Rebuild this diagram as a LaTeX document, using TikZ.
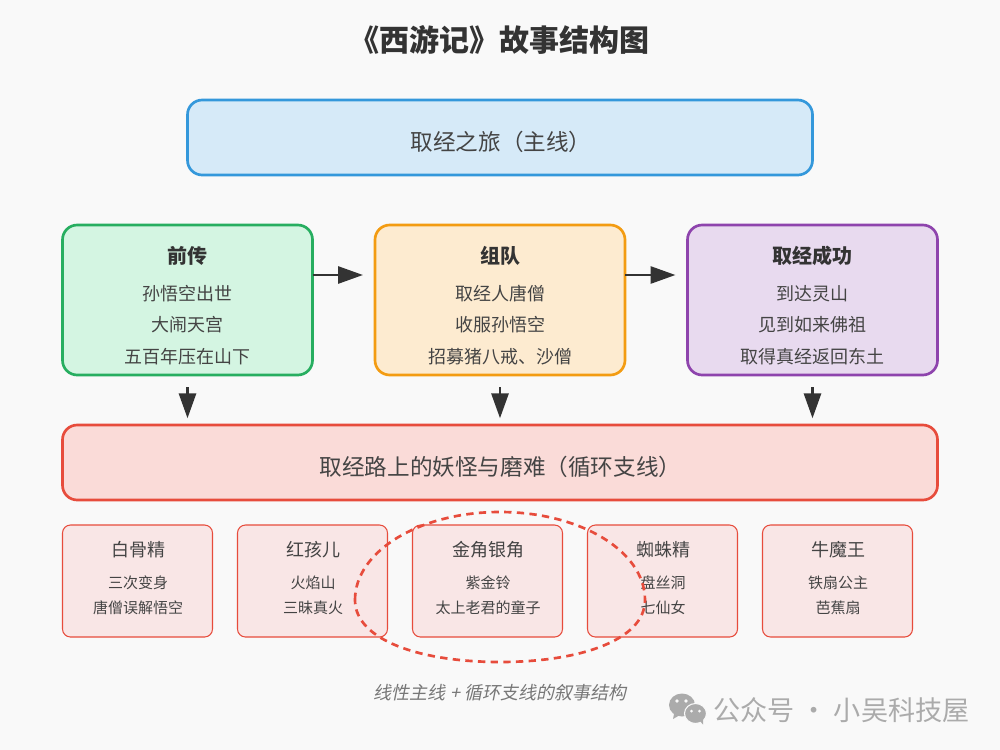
\documentclass[tikz,border=0pt]{standalone}
\usepackage{fontspec}
\setmainfont{Noto Sans CJK SC}
\newfontfamily\slantcjk[FakeSlant=0.2]{Noto Sans CJK SC}
\usetikzlibrary{arrows.meta}
\definecolor{bg}{HTML}{F9F9F9}
\definecolor{ink}{HTML}{333333}
\definecolor{soft}{HTML}{444444}
\definecolor{capt}{HTML}{777777}
\definecolor{wm}{HTML}{ABABAB}
\definecolor{bblue}{HTML}{3498DB}\definecolor{fblue}{HTML}{D6EAF8}
\definecolor{bgreen}{HTML}{27AE60}\definecolor{fgreen}{HTML}{D4F5E2}
\definecolor{borange}{HTML}{F39C12}\definecolor{forange}{HTML}{FDEBD0}
\definecolor{bpurple}{HTML}{8E44AD}\definecolor{fpurple}{HTML}{E8DAEF}
\definecolor{bred}{HTML}{E74C3C}\definecolor{fred}{HTML}{FADBD8}\definecolor{fpale}{HTML}{F9E6E6}
\newcommand{\px}[1]{\fontsize{\dimexpr#1pt*3/4\relax}{\dimexpr#1pt\relax}\selectfont}
\tikzset{
  bigbox/.style n args={2}{draw=#1,fill=#2,line width=2pt,rounded corners=11pt,inner sep=0pt,outer sep=0pt,anchor=north west},
  smallbox/.style={draw=bred,fill=fpale,line width=0.8pt,rounded corners=6pt,minimum width=112.5pt,minimum height=84pt,inner sep=0pt,outer sep=0pt,anchor=north west},
  txt/.style={text=soft,inner sep=0pt,anchor=center},
  flow/.style={draw=ink,line width=2.2pt,-{Triangle[length=18.75pt,width=12.75pt]}},
}
\begin{document}
\begin{tikzpicture}[x=0.75pt,y=-0.75pt]
\useasboundingbox (0,0) rectangle (1000,750);
\fill[bg] (0,0) rectangle (1000,750);
\node[txt,text=ink] (title) at (499.5,40) {\px{30}\bfseries 《西游记》故事结构图};
% main line
\node[bigbox={bblue}{fblue},minimum width=468.75pt,minimum height=56.25pt] (mainbox) at (187.5,100) {};
\node[txt] (maintext) at (501,142) {\px{22.6}取经之旅（主线）};
% three stages
\node[bigbox={bgreen}{fgreen},minimum width=187.5pt,minimum height=112.5pt] (pre) at (62.5,225) {};
\node[bigbox={borange}{forange},minimum width=187.5pt,minimum height=112.5pt] (team) at (375,225) {};
\node[bigbox={bpurple}{fpurple},minimum width=187.5pt,minimum height=112.5pt] (done) at (687.5,225) {};
\node[txt,text=ink] (pre0) at (187.5,256) {\px{20}\bfseries 前传};
\node[txt] (pre1) at (187.5,293.5) {\px{18}孙悟空出世};
\node[txt] (pre2) at (187.5,325) {\px{18}大闹天宫};
\node[txt] (pre3) at (187.5,356.5) {\px{18}五百年压在山下};
\node[txt,text=ink] (team0) at (500,256) {\px{20}\bfseries 组队};
\node[txt] (team1) at (500,293.5) {\px{18}取经人唐僧};
\node[txt] (team2) at (500,325) {\px{18}收服孙悟空};
\node[txt] (team3) at (500,356.5) {\px{18}招募猪八戒、沙僧};
\node[txt,text=ink] (done0) at (812.5,256) {\px{20}\bfseries 取经成功};
\node[txt] (done1) at (812.5,293.5) {\px{18}到达灵山};
\node[txt] (done2) at (812.5,325) {\px{18}见到如来佛祖};
\node[txt] (done3) at (812.5,356.5) {\px{18}取得真经返回东土};
% trials band
\node[bigbox={bred}{fred},minimum width=656.25pt,minimum height=56.25pt] (road) at (62.5,425) {};
\node[txt] (roadtext) at (500.5,467) {\px{22.6}取经路上的妖怪与磨难（循环支线）};
% connectors
\draw[flow,shorten >=9pt] ([yshift=18.75pt]pre.east) -- ([yshift=18.75pt]team.west);
\draw[flow,shorten >=9pt] ([yshift=18.75pt]team.east) -- ([yshift=18.75pt]done.west);
\draw[flow,shorten <=9pt,shorten >=5pt] (pre.south) -- (pre.south |- road.north);
\draw[flow,shorten <=9pt,shorten >=5pt] (team.south) -- (team.south |- road.north);
\draw[flow,shorten <=9pt,shorten >=5pt] (done.south) -- (done.south |- road.north);
% demons
\node[smallbox] (d1) at (62.5,525) {};
\node[smallbox] (d2) at (237.5,525) {};
\node[smallbox] (d3) at (412.5,525) {};
\node[smallbox] (d4) at (587.5,525) {};
\node[smallbox] (d5) at (762.5,525) {};
\node[txt] (d1a) at (138,550) {\px{18}白骨精};
\node[txt] (d1b) at (138,583) {\px{15}三次变身};
\node[txt] (d1c) at (138,608) {\px{15}唐僧误解悟空};
\node[txt] (d2a) at (313,550) {\px{18}红孩儿};
\node[txt] (d2b) at (313,583) {\px{15}火焰山};
\node[txt] (d2c) at (313,608) {\px{15}三昧真火};
\node[txt] (d3a) at (488,550) {\px{18}金角银角};
\node[txt] (d3b) at (488,583) {\px{15}紫金铃};
\node[txt] (d3c) at (488,608) {\px{15}太上老君的童子};
\node[txt] (d4a) at (663,550) {\px{18}蜘蛛精};
\node[txt] (d4b) at (663,583) {\px{15}盘丝洞};
\node[txt] (d4c) at (663,608) {\px{15}七仙女};
\node[txt] (d5a) at (838,550) {\px{18}牛魔王};
\node[txt] (d5b) at (838,583) {\px{15}铁扇公主};
\node[txt] (d5c) at (838,608) {\px{15}芭蕉扇};
% dashed loop
\draw[bred,line width=2pt,dash pattern=on 5.5pt off 4pt]
  (355,600) .. controls (355,551) and (420,512) .. (500,512)
  .. controls (580,512) and (645,551) .. (645,600)
  .. controls (645,640) and (580,662) .. (500,662)
  .. controls (420,662) and (355,640) .. (355,600) -- cycle;
% caption and watermark
\node[txt,text=capt] (cap) at (500,693) {\px{18}\slantcjk 线性主线 + 循环支线的叙事结构};
\node[txt,text=wm] (wmtext) at (841.5,710) {\px{27.1}公众号 · 小吴科技屋};
% chat icon
\fill[wm] (682,705) ellipse [x radius=13,y radius=11.5];
\fill[wm] (674,714) -- (673,719) -- (680,715) -- cycle;
\fill[wm,draw=bg,line width=0.8pt] (695.5,713.5) ellipse [x radius=11,y radius=10];
\fill[wm] (700,721) -- (703,724.5) -- (703,718) -- cycle;
\fill[bg] (677,701) circle [radius=1.8] (686,701) circle [radius=1.8]
          (691.5,711) circle [radius=1.5] (699.5,711) circle [radius=1.5];
\end{tikzpicture}
\end{document}
